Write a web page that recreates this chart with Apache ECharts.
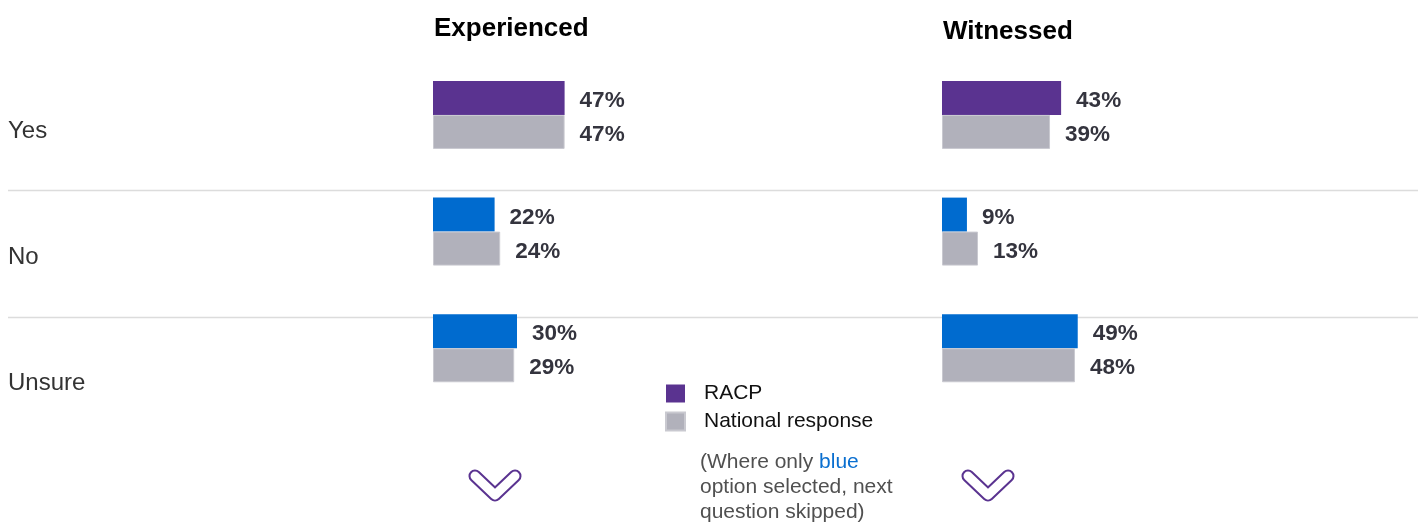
<!DOCTYPE html>
<html>
<head>
<meta charset="utf-8">
<script src="https://cdn.jsdelivr.net/npm/echarts@6/dist/echarts.min.js"></script>
<style>
html,body{margin:0;padding:0;background:#fff;}
#chart{width:1420px;height:522px;}
</style>
</head>
<body>
<div id="chart"></div>
<script>
const categories = ['Yes', 'No', 'Unsure'];
const panelTitles = ['Experienced', 'Witnessed'];
const seriesNames = ['RACP', 'National response'];
const experiencedRACP = [47, 22, 30];
const experiencedNational = [47, 24, 29];
const witnessedRACP = [43, 9, 49];
const witnessedNational = [39, 13, 48];
const noteLines = ['(Where only {b|blue}', 'option selected, next', 'question skipped)'];

const PURPLE = '#5a3390';
const BLUE = '#006bcf';
const GRAY = '#b1b1bb';
const FONT = '"Liberation Sans", Arial, Helvetica, sans-serif';

function racpData(vals) {
  return vals.map((v, i) => ({ value: v, itemStyle: { color: i === 0 ? PURPLE : BLUE } }));
}

const labelStyle = {
  show: true, position: 'right', distance: 15, formatter: '{c}%', offset: [0, 3],
  fontFamily: FONT, fontSize: 22.5, fontWeight: 'bold', color: '#34343e'
};

function barSeries(name, data, axisIdx, color) {
  return {
    type: 'bar', name: name, xAxisIndex: axisIdx, yAxisIndex: axisIdx,
    data: data, barWidth: 34, barGap: '0%',
    itemStyle: { color: color, borderColor: color === GRAY ? '#c9c9d0' : color, borderWidth: color === GRAY ? 1 : 0 },
    label: labelStyle, silent: true, animation: false
  };
}

function chevron(cx) {
  const pts = [[cx - 20, 476], [cx, 495], [cx + 20, 476]];
  return [
    { type: 'polyline', shape: { points: pts }, style: { stroke: PURPLE, lineWidth: 13, lineCap: 'round', lineJoin: 'round', fill: null } },
    { type: 'polyline', shape: { points: pts }, style: { stroke: '#fff', lineWidth: 9, lineCap: 'round', lineJoin: 'round', fill: null } }
  ];
}

const option = {
  animation: false,
  backgroundColor: '#fff',
  title: [
    { text: panelTitles[0], left: 434, top: 16, padding: 0, textStyle: { fontFamily: FONT, fontSize: 26, fontWeight: 'bold', color: '#000' } },
    { text: panelTitles[1], left: 943, top: 19, padding: 0, textStyle: { fontFamily: FONT, fontSize: 26, fontWeight: 'bold', color: '#000' } }
  ],
  legend: {
    orient: 'vertical', left: 665, top: 383, padding: 0,
    itemWidth: 19, itemHeight: 18, itemGap: 7, icon: 'rect',
    data: seriesNames,
    selectedMode: false,
    textStyle: { fontFamily: FONT, fontSize: 21, color: '#111', padding: [0, 0, 0, 14], lineHeight: 20 }
  },
  grid: [
    { left: 8, top: 68, width: 10, height: 378 },
    { left: 433, top: 56.6, width: 280, height: 350 },
    { left: 942, top: 56.6, width: 277, height: 350 }
  ],
  xAxis: [
    { gridIndex: 0, type: 'value', show: false, min: 0, max: 1 },
    { gridIndex: 1, type: 'value', show: false, min: 0, max: 100 },
    { gridIndex: 2, type: 'value', show: false, min: 0, max: 100 }
  ],
  yAxis: [
    { gridIndex: 0, type: 'category', data: categories, inverse: true,
      axisLine: { show: false }, axisTick: { show: false }, splitLine: { show: false },
      axisLabel: { align: 'left', margin: 0, fontFamily: FONT, fontSize: 24, color: '#333' } },
    { gridIndex: 1, type: 'category', data: categories, inverse: true, show: false },
    { gridIndex: 2, type: 'category', data: categories, inverse: true, show: false }
  ],
  series: [
    barSeries(seriesNames[0], racpData(experiencedRACP), 1, PURPLE),
    barSeries(seriesNames[1], experiencedNational, 1, GRAY),
    barSeries(seriesNames[0], racpData(witnessedRACP), 2, PURPLE),
    barSeries(seriesNames[1], witnessedNational, 2, GRAY)
  ],
  graphic: [
    { type: 'line', shape: { x1: 8, y1: 190.5, x2: 1418, y2: 190.5 }, style: { stroke: '#dcdcdc', lineWidth: 1.5 }, z: -1 },
    { type: 'line', shape: { x1: 8, y1: 317.5, x2: 1418, y2: 317.5 }, style: { stroke: '#dcdcdc', lineWidth: 1.5 }, z: -1 },
    {
      type: 'text', left: 700, top: 450,
      style: {
        text: noteLines.join('\n'),
        font: '21px ' + FONT, fill: '#505050', lineHeight: 25,
        rich: { b: { fill: '#0a6fd0', fontSize: 21, fontFamily: FONT, lineHeight: 25 } }
      }
    },
    ...chevron(495),
    ...chevron(988)
  ]
};

const chart = echarts.init(document.getElementById('chart'), null, { renderer: 'canvas' });
chart.setOption(option);
</script>
</body>
</html>
